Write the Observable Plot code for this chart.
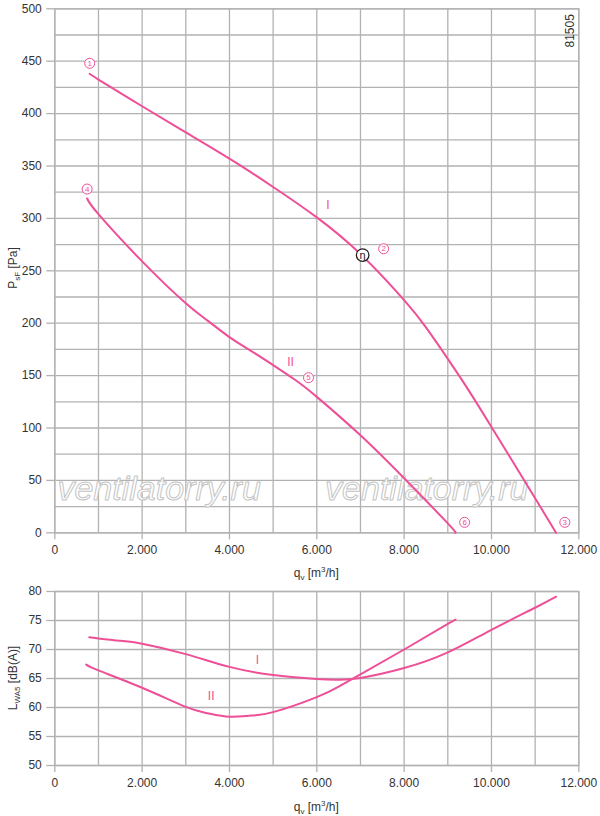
<!DOCTYPE html>
<html><head><meta charset="utf-8">
<script src="https://cdn.jsdelivr.net/npm/d3@7"></script>
<script src="https://cdn.jsdelivr.net/npm/@observablehq/plot@0.6"></script>
<style>
body{margin:0;background:#fff;}
#chart svg{display:block;}
</style></head><body><div id="chart"></div>
<script>
// ---- data ----
const qCurveI  = [800, 1000, 2000, 3000, 4000, 5000, 6000, 7000, 8000, 8500, 9000, 9500, 10000, 10500, 11000, 11480];
const pCurveI  = [438, 432.5, 407, 382, 357, 330, 301, 266, 222, 196, 166, 134.5, 101, 67, 33, 0];
const qCurveII = [740, 1000, 2000, 3000, 3500, 4000, 4500, 5000, 5500, 6000, 7000, 8000, 9000, 9170];
const pCurveII = [319, 304, 259, 219, 202.5, 186.7, 173.4, 160, 146, 129.7, 93, 52, 9, 0];

const lqCurveI  = [790, 1000, 1500, 2000, 3000, 4000, 5000, 6000, 6500, 7000, 8000, 9000, 10000, 11000, 11480];
const lCurveI   = [72.1, 71.9, 71.5, 71.0, 69.2, 67.0, 65.6, 64.9, 64.8, 65.1, 66.8, 69.5, 73.4, 77.2, 79.1];
const lqCurveII = [720, 1000, 2000, 3000, 3500, 4000, 4500, 5000, 6000, 6500, 7000, 8000, 9000, 9170];
const lCurveII  = [67.4, 66.4, 63.4, 60.1, 59.0, 58.4, 58.6, 59.2, 61.8, 63.6, 65.7, 70.0, 74.4, 75.1];

const pointLabels = ["1", "2", "3", "4", "5", "6"];
const pointQ = [800, 7530, 11680, 740, 5810, 9385];
const pointP = [448, 271, 10, 328, 148, 10];

const etaQ = [7050];
const etaP = [265];

const curveNames = ["I", "II"];
const curveNameQ = [6256, 5400];
const curveNameP = [313, 163];
const curveNameLQ = [4640, 3580];
const curveNameL = [68.2, 61.9];

const watermarkQ = [60, 6190];
const watermarkP = [31, 31];

const codeText = ["81505"];
const codeQ = [11800];
const codeP = [479];

const xTicks = [0, 2000, 4000, 6000, 8000, 10000, 12000];
const xGrid = d3.range(0, 12001, 1000);
const pTicks = d3.range(0, 501, 50);
const pGrid = d3.range(0, 501, 25);
const lTicks = [50, 55, 60, 65, 70, 75, 80];

// ---- styles ----
const pink = "#ee4f97";
const gridColor = "#b2b2b2";
const fmt = d3.formatLocale({decimal: ",", thousands: ".", grouping: [3], currency: ["", ""]}).format(",");
const font = "Liberation Sans, Arial, sans-serif";
const smooth = "natural";

const zipRows = (xs, ys) => xs.map((x, i) => ({x, y: ys[i]}));

const topChart = Plot.plot({
  width: 600, height: 582,
  marginLeft: 54.3, marginRight: 21.7, marginTop: 8.3, marginBottom: 49.7,
  x: {domain: [0, 12000]},
  y: {domain: [0, 500]},
  style: {fontFamily: font, fontSize: "12px", color: "#333", background: "#fff"},
  marks: [
    Plot.gridX(xGrid, {stroke: gridColor, strokeOpacity: 1, strokeWidth: 1.3}),
    Plot.gridY(pGrid, {stroke: gridColor, strokeOpacity: 1, strokeWidth: 1.3}),
    Plot.frame({stroke: gridColor, strokeWidth: 1.3}),
    Plot.axisX(xTicks, {tickSize: 7, tickPadding: 6, tickFormat: fmt, stroke: gridColor, strokeWidth: 1.3, label: null, fill: "#333"}),
    Plot.axisY(pTicks, {tickSize: 8, tickPadding: 5, stroke: gridColor, strokeWidth: 1.3, label: null, fill: "#333"}),
    Plot.text(zipRows(watermarkQ, watermarkP), {x: "x", y: "y", text: () => "ventilatorry.ru", fontSize: 34, fontStyle: "italic",
      textAnchor: "start", lineAnchor: "bottom", fill: "#fff", stroke: "#c4c4c4", strokeWidth: 1, paintOrder: "normal"}),
    Plot.line(zipRows(qCurveI, pCurveI), {x: "x", y: "y", stroke: pink, strokeWidth: 2, curve: smooth}),
    Plot.line(zipRows(qCurveII, pCurveII), {x: "x", y: "y", stroke: pink, strokeWidth: 2, curve: smooth}),
    Plot.dot(pointLabels.map((t, i) => ({t, x: pointQ[i], y: pointP[i]})), {x: "x", y: "y", r: 5, stroke: pink, strokeWidth: 1, fill: "#fff"}),
    Plot.text(pointLabels.map((t, i) => ({t, x: pointQ[i], y: pointP[i]})), {x: "x", y: "y", text: "t", fill: pink, fontSize: 8}),
    Plot.dot(zipRows(etaQ, etaP), {x: "x", y: "y", r: 6.3, stroke: "#222", strokeWidth: 1.3, fill: "#fff"}),
    Plot.text(zipRows(etaQ, etaP), {x: "x", y: "y", text: () => "η", fill: "#222", fontSize: 11}),
    Plot.text(curveNames.map((t, i) => ({t, x: curveNameQ[i], y: curveNameP[i]})), {x: "x", y: "y", text: "t", fill: pink, fontSize: 12}),
    Plot.text(codeText.map((t, i) => ({t, x: codeQ[i], y: codeP[i]})), {x: "x", y: "y", text: "t", rotate: -90, fill: "#333", fontSize: 12})
  ]
});

const bottomChart = Plot.plot({
  width: 600, height: 234,
  marginLeft: 54.3, marginRight: 21.7, marginTop: 9, marginBottom: 51,
  x: {domain: [0, 12000]},
  y: {domain: [50, 80]},
  style: {fontFamily: font, fontSize: "12px", color: "#333", background: "#fff"},
  marks: [
    Plot.gridX(xGrid, {stroke: gridColor, strokeOpacity: 1, strokeWidth: 1.3}),
    Plot.gridY(lTicks, {stroke: gridColor, strokeOpacity: 1, strokeWidth: 1.3}),
    Plot.frame({stroke: gridColor, strokeWidth: 1.3}),
    Plot.axisX(xTicks, {tickSize: 7, tickPadding: 6, tickFormat: fmt, stroke: gridColor, strokeWidth: 1.3, label: null, fill: "#333"}),
    Plot.axisY(lTicks, {tickSize: 8, tickPadding: 5, stroke: gridColor, strokeWidth: 1.3, label: null, fill: "#333"}),
    Plot.line(zipRows(lqCurveI, lCurveI), {x: "x", y: "y", stroke: pink, strokeWidth: 2, curve: smooth}),
    Plot.line(zipRows(lqCurveII, lCurveII), {x: "x", y: "y", stroke: pink, strokeWidth: 2, curve: smooth}),
    Plot.text(curveNames.map((t, i) => ({t, x: curveNameLQ[i], y: curveNameL[i]})), {x: "x", y: "y", text: "t", fill: pink, fontSize: 12})
  ]
});

// axis titles with sub/superscripts
function addTitle(svg, x, y, parts, rotate) {
  const t = d3.select(svg).append("text")
    .attr("transform", `translate(${x},${y})` + (rotate ? " rotate(-90)" : ""))
    .attr("text-anchor", "middle")
    .attr("font-family", font)
    .attr("font-size", 12)
    .attr("fill", "#333");
  parts.forEach(p => {
    const s = t.append("tspan").text(p.t);
    if (p.sub) s.attr("font-size", 8).attr("dy", 3);
    if (p.sup) s.attr("font-size", 8).attr("dy", -5);
    if (p.back) s.attr("dy", p.back);
  });
}
const qTitle = [{t: "q"}, {t: "v", sub: true}, {t: " [m", back: -3}, {t: "3", sup: true}, {t: "/h]", back: 5}];
addTitle(topChart, 316.3, 577, qTitle, false);
addTitle(bottomChart, 316.3, 229, qTitle, false);
addTitle(topChart, 17, 268, [{t: "P"}, {t: "sF", sub: true}, {t: " [Pa]", back: -3}], true);
addTitle(bottomChart, 17, 96, [{t: "L"}, {t: "WA5", sub: true}, {t: " [dB(A)]", back: -3}], true);

document.getElementById("chart").append(topChart, bottomChart);
</script>
</body></html>
